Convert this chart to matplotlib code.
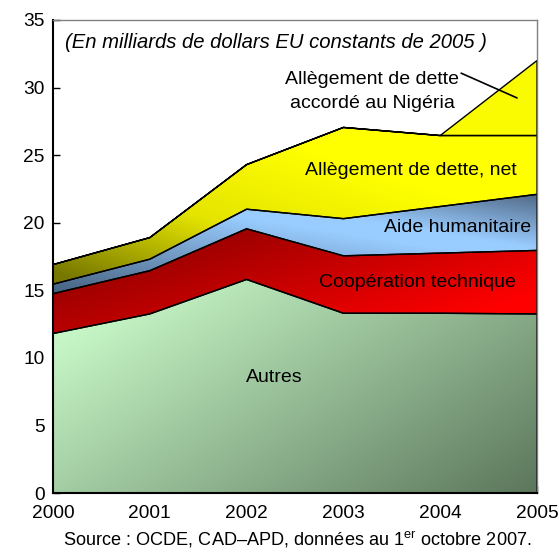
import matplotlib
matplotlib.use("Agg")
import matplotlib.pyplot as plt
import numpy as np
from matplotlib.colors import LinearSegmentedColormap
from matplotlib.patches import Polygon

plt.rcParams['font.family'] = ['Liberation Sans', 'DejaVu Sans']
plt.rcParams['mathtext.fontset'] = 'custom'
plt.rcParams['mathtext.rm'] = 'Liberation Sans'

# données (milliards de dollars EU constants de 2005)
years = [2000, 2001, 2002, 2003, 2004, 2005]
autres = [11.8, 13.25, 15.8, 13.3, 13.3, 13.25]
coop_tech = [2.95, 3.2, 3.75, 4.25, 4.45, 4.7]
aide_hum = [0.7, 0.85, 1.45, 2.75, 3.45, 4.15]
dette_net = [1.45, 1.6, 3.3, 6.75, 5.25, 4.35]
dette_nigeria = [0, 0, 0, 0, 0, 5.55]

fig = plt.figure(figsize=(5.59, 5.52), dpi=100)
ax = fig.add_axes([53 / 559, 59 / 552, 484 / 559, 473 / 552])
ax.set_xlim(2000, 2005)
ax.set_ylim(0, 35)

# grille normalisée pour les dégradés
u, v = np.meshgrid(np.linspace(0, 1, 300), np.linspace(0, 1, 300))


def grad_fill(lower, upper, field, lo, hi, colors):
    x = np.array(years, dtype=float)
    verts = np.column_stack([np.r_[x, x[::-1]], np.r_[upper, lower[::-1]]])
    poly = Polygon(verts, closed=True, facecolor='none', edgecolor='black',
                   lw=1.0, zorder=3)
    ax.add_patch(poly)
    cmap = LinearSegmentedColormap.from_list('g', colors)
    im = ax.imshow(field, cmap=cmap, vmin=lo, vmax=hi, origin='lower',
                   extent=(2000, 2005, 0, 35), aspect='auto',
                   interpolation='bilinear', zorder=2)
    im.set_clip_path(poly)


b0 = np.zeros(6)
b1 = b0 + np.array(autres)
b2 = b1 + np.array(coop_tech)
b3 = b2 + np.array(aide_hum)
b4 = b3 + np.array(dette_net)
b5 = b4 + np.array(dette_nigeria)

grad_fill(b0, b1, u + 1.5 * (0.38 - v), 0.1, 1.6,
          ['#c6f6c6', '#5a745a'])
grad_fill(b1, b2, u - 3 * (v - 0.45), 0.0, 1.1,
          ['#980000', '#ff0000'])
grad_fill(b2, b3, u + 6 * (v - 0.5), -0.5, 1.9,
          [(0, '#44607e'), (0.58, '#99ccff'), (0.67, '#99ccff'), (1, '#465a74')])
grad_fill(b3, b4, u + 3 * (v - 0.5), -0.1, 1.2,
          ['#787800', '#e4e400', '#ffff00'])
grad_fill(b4, b5, u, 0, 1, ['#ffff00', '#fafa00'])

fs = 14
ax.text(2000.12, 33.37, '(En milliards de dollars EU constants de 2005 )',
        style='italic', fontsize=14.6, ha='left', va='center', zorder=5)
ax.text(2002.29, 8.51, 'Autres', fontsize=fs, ha='center', va='center', zorder=5)
ax.text(2003.76, 15.54, 'Coopération technique', fontsize=fs,
        ha='center', va='center', zorder=5)
ax.text(2004.18, 19.68, 'Aide humanitaire', fontsize=fs,
        ha='center', va='center', zorder=5)
ax.text(2003.70, 23.9, 'Allègement de dette, net', fontsize=fs,
        ha='center', va='center', zorder=5)
ax.text(2003.30, 29.71, 'Allègement de dette\naccordé au Nigéria', fontsize=fs,
        ha='center', va='center', linespacing=1.5, zorder=5)
ax.annotate('', xy=(2004.82, 29.15), xytext=(2004.19, 31.15),
            arrowprops=dict(arrowstyle='-', color='black', lw=1.2), zorder=5)

ax.set_xticks(years)
ax.set_yticks(np.arange(0, 36, 5))
ax.tick_params(axis='both', direction='in', length=5, width=1,
               labelsize=13.8, colors='black')
ax.tick_params(axis='y', pad=6)
ax.tick_params(axis='x', pad=9)

for s in ['left', 'bottom']:
    ax.spines[s].set_linewidth(1.5)
    ax.spines[s].set_color('black')
for s in ['top', 'right']:
    ax.spines[s].set_linewidth(1.0)
    ax.spines[s].set_color('#808080')
for s in ax.spines.values():
    s.set_zorder(6)

fig.text(0.532, 0.0217, 'Source : OCDE, CAD–APD, données au 1$^{\\mathrm{er}}$ octobre 2007.',
         fontsize=13.1, ha='center', va='center')

fig.savefig('out.png', dpi=100)
